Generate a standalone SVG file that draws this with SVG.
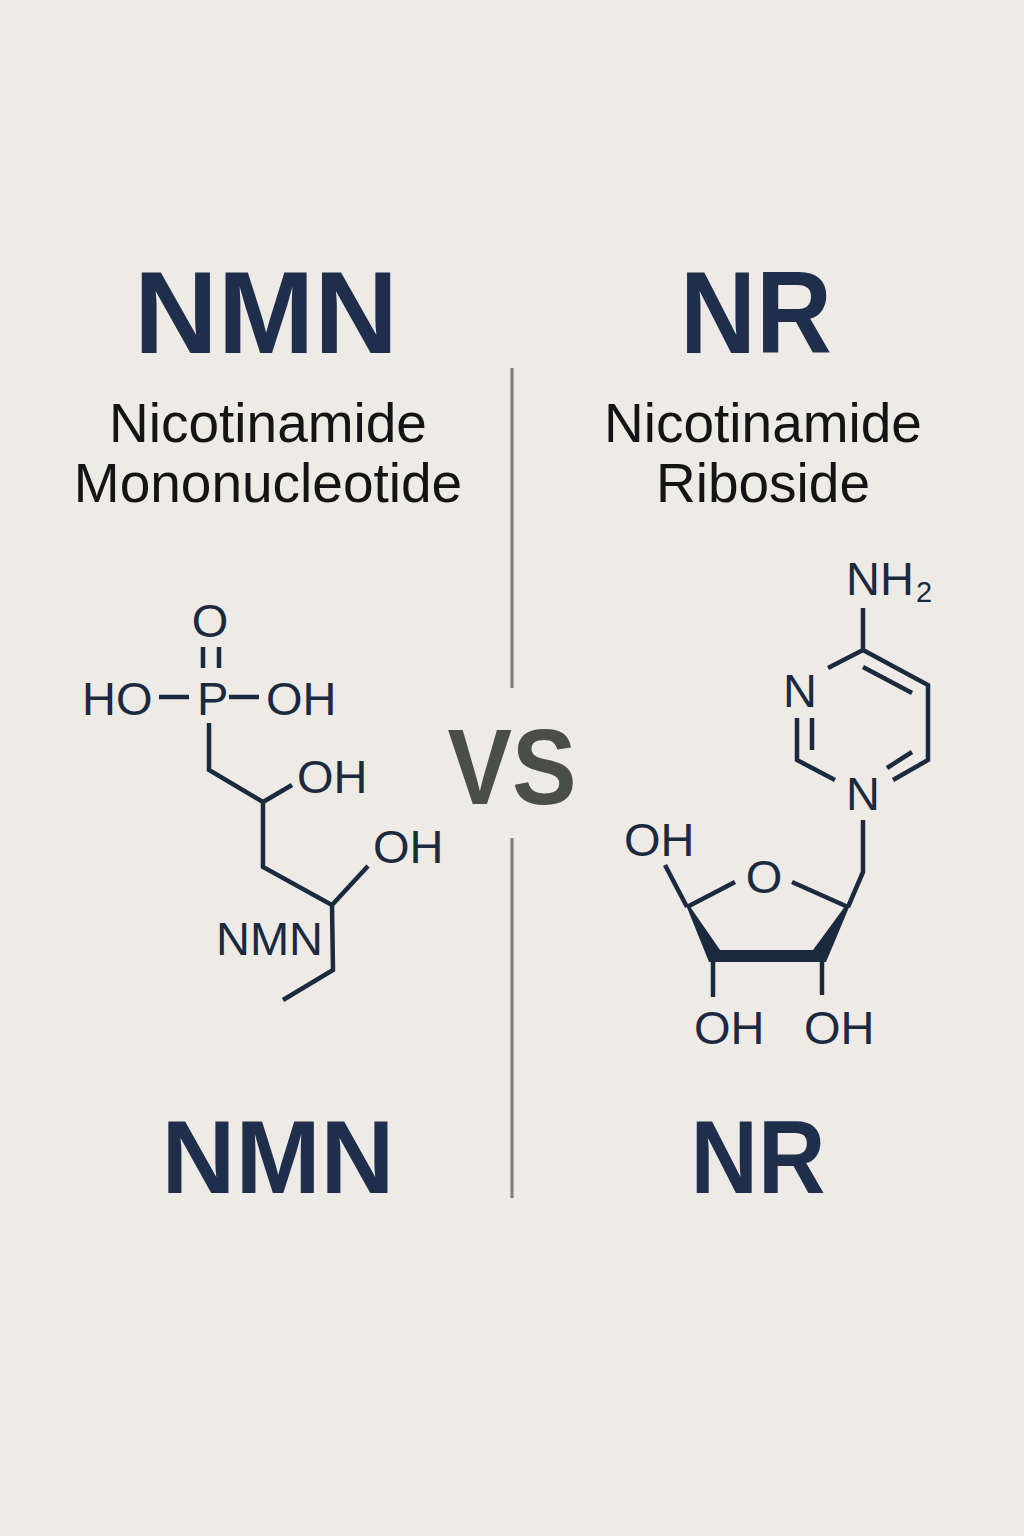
<svg xmlns="http://www.w3.org/2000/svg" width="1024" height="1536" viewBox="0 0 1024 1536">
<style>
.bg{fill:#eeebe7}
.head{font-family:"Liberation Sans",Arial,sans-serif;font-weight:bold;fill:#1f2f4b;text-anchor:middle}
.sub{font-family:"Liberation Sans",Arial,sans-serif;fill:#141414;font-size:55px;text-anchor:middle}
.atom{font-family:"Liberation Sans",Arial,sans-serif;fill:#1c2a3f;font-size:47px}
.subscript{font-size:29px}
.mid{text-anchor:middle}
.bond{stroke:#1c2a3f;stroke-width:4.5;fill:none;stroke-linecap:butt;stroke-linejoin:miter}
.solid{fill:#1c2a3f}
.div{stroke:#7a7a78;stroke-width:3}
.vs{font-family:"Liberation Sans",Arial,sans-serif;font-weight:bold;fill:#4a4d48;font-size:108px;text-anchor:middle}
</style>
<rect class="bg" x="0" y="0" width="1024" height="1536"/>

<g id="dividers">
<line class="div" x1="512" y1="368" x2="512" y2="688"/>
<line class="div" x1="512" y1="838" x2="512" y2="1198"/>
</g>

<g id="vs">
<text class="vs" x="512" y="804" textLength="129" lengthAdjust="spacingAndGlyphs">VS</text>
</g>

<g id="nmn-title">
<text class="head" x="266" y="353" font-size="116">NMN</text>
<text class="sub" x="268" y="442">Nicotinamide</text>
<text class="sub" x="268" y="502">Mononucleotide</text>
</g>

<g id="nr-title">
<text class="head" x="756" y="353" font-size="116" textLength="152" lengthAdjust="spacingAndGlyphs">NR</text>
<text class="sub" x="763" y="442">Nicotinamide</text>
<text class="sub" x="763" y="502">Riboside</text>
</g>

<g id="nmn-structure">
<text class="atom mid" x="210" y="637">O</text>
<text class="atom" x="82" y="715">HO</text>
<text class="atom" x="197" y="715">P</text>
<text class="atom" x="266" y="715">OH</text>
<text class="atom" x="297" y="793">OH</text>
<text class="atom" x="373" y="863">OH</text>
<text class="atom" x="216" y="955">NMN</text>
</g>

<g id="nr-structure">
<text class="atom" x="846" y="595">NH</text>
<text class="atom subscript" x="916" y="602">2</text>
<text class="atom mid" x="800" y="707">N</text>
<text class="atom mid" x="863" y="810">N</text>
<text class="atom mid" x="764" y="893">O</text>
<text class="atom" x="624" y="856">OH</text>
<text class="atom" x="694" y="1044">OH</text>
<text class="atom" x="804" y="1044">OH</text>
</g>

<g id="nmn-label">
<text class="head" x="278" y="1193" font-size="104" textLength="233" lengthAdjust="spacingAndGlyphs">NMN</text>
</g>

<g id="nr-label">
<text class="head" x="758" y="1193" font-size="104" textLength="135" lengthAdjust="spacingAndGlyphs">NR</text>
</g>

<g id="connectors">
<!-- NMN -->
<line class="bond" x1="203" y1="647" x2="203" y2="668"/>
<line class="bond" x1="219" y1="647" x2="219" y2="668"/>
<line class="bond" x1="159" y1="697" x2="189" y2="697"/>
<line class="bond" x1="229" y1="697" x2="259" y2="697"/>
<polyline class="bond" points="209,723 209,770 263,802 263,867 332,905 333,970 283,1000"/>
<line class="bond" x1="263" y1="802" x2="292" y2="785"/>
<line class="bond" x1="332" y1="905" x2="368" y2="866"/>
<!-- NR ring -->
<line class="bond" x1="863" y1="608" x2="863" y2="650"/>
<line class="bond" x1="863" y1="650" x2="828" y2="668"/>
<polyline class="bond" points="863,650 928,685 928,760 893,780"/>
<line class="bond" x1="863" y1="667" x2="912" y2="693"/>
<line class="bond" x1="912" y1="752" x2="887" y2="768"/>
<polyline class="bond" points="797,718 797,760 835,780"/>
<line class="bond" x1="812" y1="718" x2="812" y2="750"/>
<polyline class="bond" points="863,820 863,872 848,907"/>
<line class="bond" x1="792" y1="882" x2="848" y2="907"/>
<line class="bond" x1="735" y1="882" x2="687" y2="907"/>
<line class="bond" x1="687" y1="907" x2="665" y2="865"/>
<polygon class="solid" points="686,905 689,905 720,950 713,962 709,962"/>
<polygon class="solid" points="846,905 850,905 826,962 821,962 813,950"/>
<rect class="solid" x="712" y="950" width="112" height="12"/>
<line class="bond" x1="713" y1="960" x2="713" y2="997"/>
<line class="bond" x1="822" y1="960" x2="822" y2="995"/>
</g>
</svg>
